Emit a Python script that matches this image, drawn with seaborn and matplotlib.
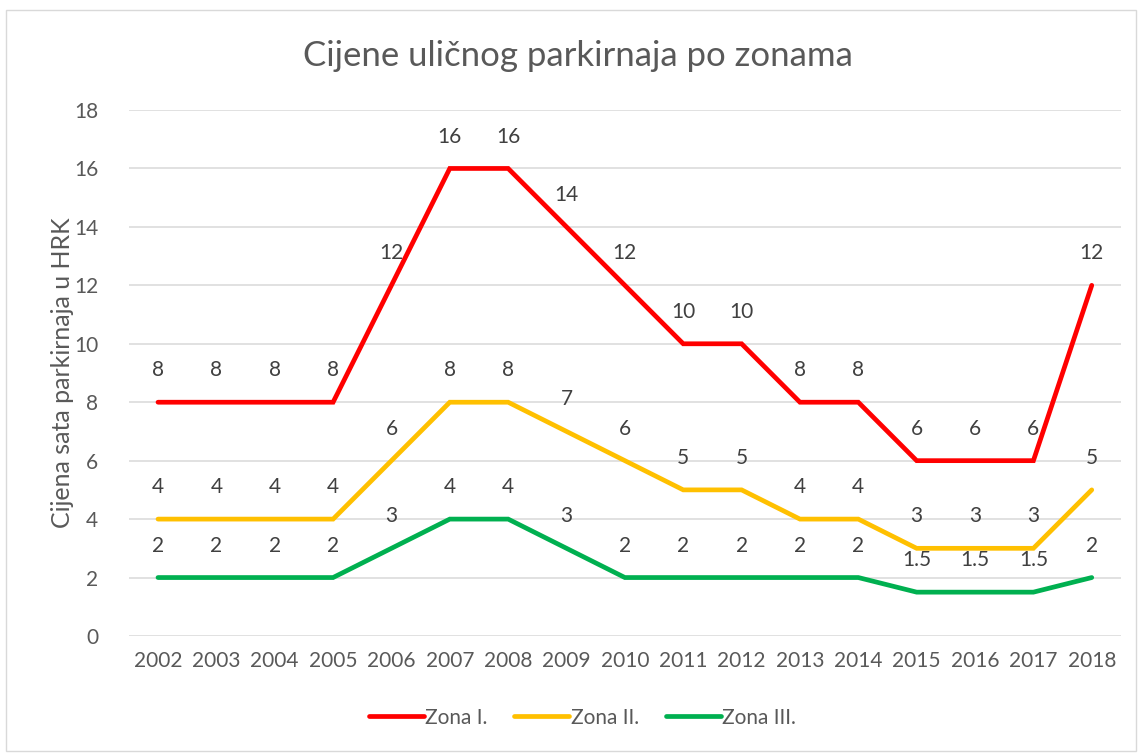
import matplotlib
matplotlib.use("Agg")
import matplotlib.pyplot as plt
import seaborn as sns
import pandas as pd
from matplotlib.patches import Rectangle

years = [2002, 2003, 2004, 2005, 2006, 2007, 2008, 2009, 2010, 2011, 2012, 2013, 2014, 2015, 2016, 2017, 2018]
zona_1 = [8, 8, 8, 8, 12, 16, 16, 14, 12, 10, 10, 8, 8, 6, 6, 6, 12]
zona_2 = [4, 4, 4, 4, 6, 8, 8, 7, 6, 5, 5, 4, 4, 3, 3, 3, 5]
zona_3 = [2, 2, 2, 2, 3, 4, 4, 3, 2, 2, 2, 2, 2, 1.5, 1.5, 1.5, 2]
series_names = ["Zona I.", "Zona II.", "Zona III."]
colors = ["#FF0000", "#FFC000", "#00B050"]
title = "Cijene uličnog parkirnaja po zonama"
ylabel = "Cijena sata parkirnaja u HRK"

sns.set_theme(style="white")
plt.rcParams['font.family'] = ['Lato', 'DejaVu Sans']
txt = "#595959"

rows = []
for name, vals in zip(series_names, [zona_1, zona_2, zona_3]):
    for y, v in zip(years, vals):
        rows.append({"Godina": y, "Cijena": v, "Zona": name})
df = pd.DataFrame(rows)

fig = plt.figure(figsize=(11.38, 7.53), dpi=100)
ax = fig.add_axes([0.1132, 0.1554, 0.8718, 0.6985])

sns.lineplot(data=df, x="Godina", y="Cijena", hue="Zona", palette=colors,
             linewidth=3.4, ax=ax, legend=True, zorder=3)
for line in ax.get_lines():
    line.set_solid_capstyle("round")
    line.set_solid_joinstyle("miter")

ax.set_xlim(years[0] - 0.5, years[-1] + 0.5)
ax.set_ylim(0, 18)
ax.set_yticks(range(0, 19, 2))
ax.set_xticks(years)
ax.set_xticklabels([str(y) for y in years])
ax.yaxis.grid(True, color="#d9d9d9", linewidth=1.1)
ax.xaxis.grid(False)
for s in ax.spines.values():
    s.set_visible(False)
ax.tick_params(axis="both", length=0, labelsize=15, colors=txt)
ax.tick_params(axis="y", pad=22)
ax.tick_params(axis="x", pad=11)
ax.set_xlabel("")
ax.set_ylabel(ylabel, fontsize=18, color=txt, labelpad=0)

for vals in [zona_1, zona_2, zona_3]:
    for y, v in zip(years, vals):
        lab = f"{v:g}"
        ax.annotate(lab, (y, v), xytext=(0, 23), textcoords="offset points",
                    ha="center", va="center", fontsize=15, color="#404040", zorder=4)

h, l = ax.get_legend_handles_labels()
leg = ax.legend(h, l, loc="center", bbox_to_anchor=(0.457, -0.155), ncol=3,
                frameon=False, fontsize=15, handlelength=2.65, handletextpad=0.05,
                columnspacing=1.3)
for t in leg.get_texts():
    t.set_color(txt)
for lh in leg.get_lines():
    lh.set_linewidth(3.4)
    lh.set_solid_capstyle("round")

fig.text(0.508, 0.925, title, ha="center", va="center", fontsize=25, color=txt)
fig.patches.append(Rectangle((0.005, 0.003), 0.993, 0.984, transform=fig.transFigure,
                             fill=False, edgecolor="#d9d9d9", linewidth=1))

fig.savefig("out.png", dpi=100, facecolor="white")
